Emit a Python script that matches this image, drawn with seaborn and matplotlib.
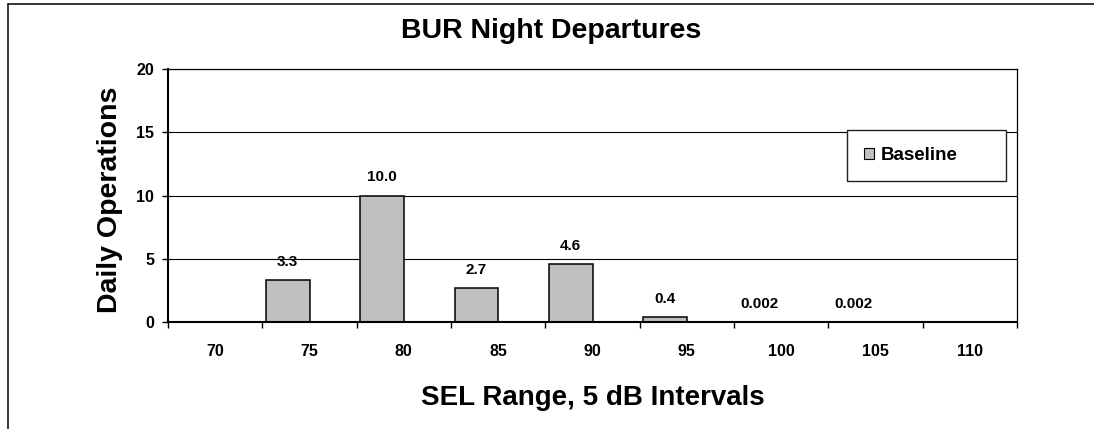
import matplotlib
matplotlib.use("Agg")
import matplotlib.pyplot as plt
from matplotlib.lines import Line2D
from matplotlib.patches import Patch
import numpy as np
import pandas as pd
import seaborn as sns

# SEL bins (5 dB intervals) and nightly departure counts per bin
sel_bins = ["70", "75", "80", "85", "90", "95", "100", "105", "110"]
baseline_ops = [np.nan, 3.3, 10.0, 2.7, 4.6, 0.4, 0.002, 0.002, np.nan]
y_ticks = [0, 5, 10, 15, 20]
# two series slots per bin; only the baseline slot carries data
series_slots = ["Baseline", "_unused"]

df = pd.DataFrame({"sel": sel_bins, "ops": baseline_ops, "series": "Baseline"}).dropna()

W, H, DPI = 1094, 429, 100
sns.set_theme(style="white")
plt.rcParams["font.family"] = ["Liberation Sans", "DejaVu Sans"]
plt.rcParams["font.weight"] = "bold"
for key in ["text.color", "axes.labelcolor", "xtick.color", "ytick.color", "axes.edgecolor"]:
    plt.rcParams[key] = "black"

fig = plt.figure(figsize=(W / DPI, H / DPI), dpi=DPI)
ax = fig.add_axes([168 / W, 1 - 322 / H, (1017 - 168) / W, (322 - 69) / H])

sns.barplot(
    data=df, x="sel", y="ops", hue="series",
    order=sel_bins, hue_order=series_slots,
    palette={"Baseline": "#C0C0C0", "_unused": "white"},
    width=0.92, dodge=True, errorbar=None,
    edgecolor="black", linewidth=1.1, legend=False, ax=ax,
)

def fmt_value(v):
    return f"{v:.1f}" if v >= 0.1 else f"{v:.3f}"

ax.bar_label(ax.containers[0], fmt=fmt_value, padding=8,
             fontsize=11, fontweight="bold", color="black")

ax.set_xlim(-0.5, len(sel_bins) - 0.5)
ax.set_ylim(0, 20)
ax.set_yticks(y_ticks)
ax.set_xticks(range(len(sel_bins)))
ax.set_xticklabels(sel_bins, fontsize=11.5, fontweight="bold", color="black")
ax.set_xticks(np.arange(-0.5, len(sel_bins), 1), minor=True)
ax.set_yticklabels([str(t) for t in y_ticks], fontsize=11.5, fontweight="bold", color="black")
ax.tick_params(axis="x", which="major", length=0, pad=16, colors="black")
ax.tick_params(axis="x", which="minor", length=4.5, width=1, direction="out",
               color="black", bottom=True)
ax.tick_params(axis="y", length=4.5, width=1, direction="out", pad=5.5,
               color="black", left=True)
ax.set_xlabel("")
ax.set_ylabel("")

ax.yaxis.grid(True, color="black", linewidth=0.8)
ax.xaxis.grid(False)
ax.set_axisbelow(True)
for side in ["left", "bottom"]:
    ax.spines[side].set_color("black")
    ax.spines[side].set_linewidth(1.5)
for side in ["top", "right"]:
    ax.spines[side].set_color("black")
    ax.spines[side].set_linewidth(0.9)

leg = ax.legend(
    handles=[Patch(facecolor="#C0C0C0", edgecolor="black", linewidth=0.8, label="Baseline")],
    loc="center", bbox_to_anchor=(0.80, 0.549, 0.187, 0.218), mode="expand",
    prop={"weight": "bold", "size": 13.5},
    frameon=True, fancybox=False, borderpad=0.9,
    handlelength=0.55, handleheight=0.55, handletextpad=0.35, borderaxespad=0,
)
for txt in leg.get_texts():
    txt.set_color("black")
leg.get_frame().set_edgecolor("#222222")
leg.get_frame().set_linewidth(1.0)
leg.get_frame().set_facecolor("white")
leg.get_frame().set_alpha(1)

fig.text(551 / W, 1 - 31 / H, "BUR Night Departures", ha="center", va="center",
         fontsize=20.5, fontweight="bold", color="black")
fig.text(110 / W, 1 - 200 / H, "Daily Operations", ha="center", va="center",
         rotation=90, fontsize=20.5, fontweight="bold", color="black")
fig.text(593 / W, 1 - 398 / H, "SEL Range, 5 dB Intervals", ha="center", va="center",
         fontsize=20, fontweight="bold", color="black")

# outer chart frame (left and top edges)
fig.add_artist(Line2D([8 / W, 8 / W], [0, 1 - 4 / H], color="black", linewidth=1.1))
fig.add_artist(Line2D([8 / W, 1], [1 - 4 / H, 1 - 4 / H], color="black", linewidth=1.1))

fig.savefig("out.png", dpi=DPI, facecolor="white")
